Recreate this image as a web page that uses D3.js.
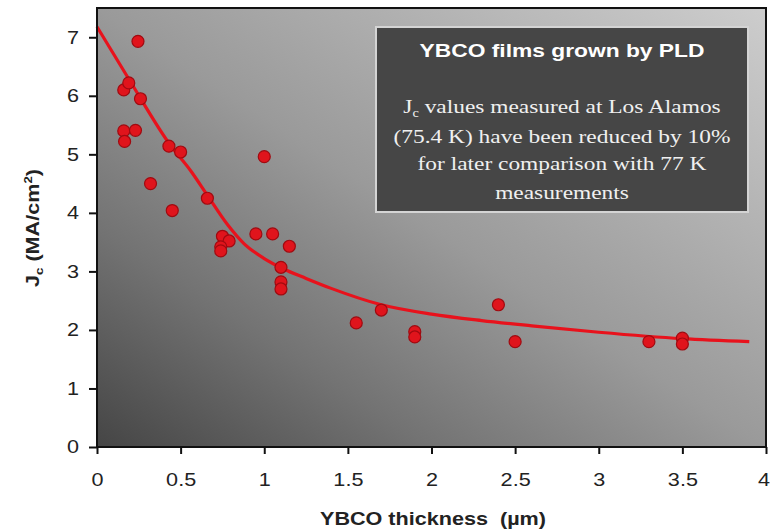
<!DOCTYPE html>
<html>
<head>
<meta charset="utf-8">
<script src="https://cdn.jsdelivr.net/npm/d3@7"></script>
<style>
  html, body { margin: 0; padding: 0; background: #fff; }
  svg { display: block; }
</style>
</head>
<body>
<svg id="chart" width="770" height="529"></svg>
<script>
// Measured film thickness (µm) and critical current density Jc (MA/cm²)
const thickness = [0.245, 0.16, 0.19, 0.26, 0.16, 0.23, 0.165, 0.32, 0.43, 0.50, 0.45,
  0.66, 1.00, 0.95, 1.05, 1.15, 0.75, 0.79, 0.74, 0.74, 1.10, 1.10, 1.10,
  1.55, 1.70, 1.90, 1.90, 2.40, 2.50, 3.30, 3.50, 3.50];
const jc = [6.93, 6.10, 6.22, 5.95, 5.40, 5.41, 5.22, 4.50, 5.14, 5.04, 4.04,
  4.25, 4.96, 3.64, 3.64, 3.43, 3.60, 3.52, 3.42, 3.35, 3.07, 2.82, 2.70,
  2.12, 2.34, 1.97, 1.88, 2.43, 1.80, 1.80, 1.86, 1.76];

// Trend line through the data
const trendX = [0, 0.2, 0.44, 0.56, 0.66, 0.78, 0.88, 1.0, 1.11, 1.25, 1.4, 1.7, 2.0, 2.3, 2.6, 3.0, 3.5, 3.9];
const trendY = [7.18, 6.24, 5.15, 4.72, 4.30, 3.80, 3.47, 3.22, 3.05, 2.88, 2.71, 2.43, 2.27, 2.16, 2.07, 1.96, 1.85, 1.80];

const xTicks = [0, 0.5, 1, 1.5, 2, 2.5, 3, 3.5, 4];
const yTicks = [0, 1, 2, 3, 4, 5, 6, 7];

const svg = d3.select("#chart");
const plotL = 97, plotR = 766, plotT = 8, plotB = 447;
const WIDEN = 1.2; // horizontal widening applied to the lettering

const x = d3.scaleLinear().domain([0, 4]).range([plotL, plotR]);
const y = d3.scaleLinear().domain([0, 7.5]).range([plotB, plotT]);

// Widen a text element horizontally around x = cx
function widen(sel, cx) {
  sel.attr("transform", `translate(${cx},0) scale(${WIDEN},1) translate(${-cx},0)`);
}

// Plot-area gradient background
const defs = svg.append("defs");
const grad = defs.append("linearGradient").attr("id", "bg")
  .attr("x1", 0).attr("y1", 1).attr("x2", 1).attr("y2", 0);
grad.append("stop").attr("offset", "0%").attr("stop-color", "#454545");
grad.append("stop").attr("offset", "25%").attr("stop-color", "#737373");
grad.append("stop").attr("offset", "50%").attr("stop-color", "#9a9a9a");
grad.append("stop").attr("offset", "100%").attr("stop-color", "#cdcdcd");

svg.append("rect")
  .attr("x", plotL).attr("y", plotT)
  .attr("width", plotR - plotL).attr("height", plotB - plotT)
  .attr("fill", "url(#bg)");

// Annotation box
const box = svg.append("g");
box.append("rect")
  .attr("x", 376).attr("y", 27).attr("width", 372).attr("height", 185)
  .attr("fill", "none").attr("stroke", "#d4d4d4").attr("stroke-width", 2);
box.append("rect")
  .attr("x", 377).attr("y", 28).attr("width", 370).attr("height", 183)
  .attr("fill", "#464646");
box.append("text")
  .attr("x", 562).attr("y", 57)
  .attr("text-anchor", "middle")
  .attr("font-family", "Liberation Sans, Arial, sans-serif")
  .attr("font-weight", "bold").attr("font-size", 19)
  .attr("fill", "#fff")
  .text("YBCO films grown by PLD")
  .call(widen, 562);

const bodyLines = [null, "(75.4 K) have been reduced by 10%", "for later comparison with 77 K", "measurements"];
const bodyY = [113, 143, 170, 199];
const body = box.append("g")
  .attr("font-family", "Liberation Serif, Times New Roman, serif")
  .attr("font-size", 19.5).attr("fill", "#f0f0f0")
  .attr("text-anchor", "middle");
const first = body.append("text").attr("x", 562).attr("y", bodyY[0]).call(widen, 562);
first.append("tspan").text("J");
first.append("tspan").attr("font-size", 12).attr("dy", 4).text("c");
first.append("tspan").attr("dy", -4).text(" values measured at Los Alamos");
bodyLines.forEach((t, i) => {
  if (t) body.append("text").attr("x", 562).attr("y", bodyY[i]).text(t).call(widen, 562);
});

// Trend line
const pts = trendX.map((v, i) => [v, trendY[i]]);
svg.append("path")
  .datum(pts)
  .attr("fill", "none")
  .attr("stroke", "#e8121c")
  .attr("stroke-width", 3.2)
  .attr("d", d3.line().x(d => x(d[0])).y(d => y(d[1])).curve(d3.curveMonotoneX));

// Data points
svg.append("g").selectAll("circle")
  .data(thickness.map((v, i) => [v, jc[i]]))
  .join("circle")
  .attr("cx", d => x(d[0]))
  .attr("cy", d => y(d[1]))
  .attr("r", 6)
  .attr("fill", "#e0141c")
  .attr("stroke", "#a00a10")
  .attr("stroke-width", 1.2);

// Frame
svg.append("rect")
  .attr("x", plotL).attr("y", plotT)
  .attr("width", plotR - plotL).attr("height", plotB - plotT)
  .attr("fill", "none").attr("stroke", "#111").attr("stroke-width", 2);

// Axes
const xAxis = svg.append("g")
  .attr("transform", `translate(0,${plotB})`)
  .call(d3.axisBottom(x).tickValues(xTicks).tickSize(7).tickPadding(19)
    .tickFormat(d3.format("")));
const yAxis = svg.append("g")
  .attr("transform", `translate(${plotL},0)`)
  .call(d3.axisLeft(y).tickValues(yTicks).tickSize(8).tickPadding(7)
    .tickFormat(d3.format("d")));
[xAxis, yAxis].forEach(a => {
  a.select(".domain").remove();
  a.selectAll("line").attr("stroke", "#111").attr("stroke-width", 2);
  a.selectAll("text")
    .attr("font-family", "Liberation Sans, Arial, sans-serif")
    .attr("font-size", 18).attr("fill", "#222")
    .attr("transform", `scale(${WIDEN},1)`);
});
// keep the last x label inside the page edge
xAxis.selectAll(".tick text").filter(d => d === 4)
  .attr("text-anchor", "end").attr("x", 3);

// Axis titles
svg.append("text")
  .attr("x", 433).attr("y", 525)
  .attr("text-anchor", "middle")
  .attr("font-family", "Liberation Sans, Arial, sans-serif")
  .attr("font-weight", "bold").attr("font-size", 18).attr("fill", "#222")
  .attr("xml:space", "preserve")
  .text("YBCO thickness  (\u00b5m)")
  .call(widen, 433);

const yt = svg.append("text")
  .attr("transform", `translate(39,228) scale(1,${WIDEN}) rotate(-90)`)
  .attr("text-anchor", "middle")
  .attr("font-family", "Liberation Sans, Arial, sans-serif")
  .attr("font-weight", "bold").attr("font-size", 18).attr("fill", "#222");
yt.append("tspan").text("J");
yt.append("tspan").attr("font-size", 11).attr("dy", 4).text("c");
yt.append("tspan").attr("dy", -4).text("  (MA/cm");
yt.append("tspan").attr("font-size", 11).attr("dy", -7).text("2");
yt.append("tspan").attr("dy", 7).text(")");
</script>
</body>
</html>
